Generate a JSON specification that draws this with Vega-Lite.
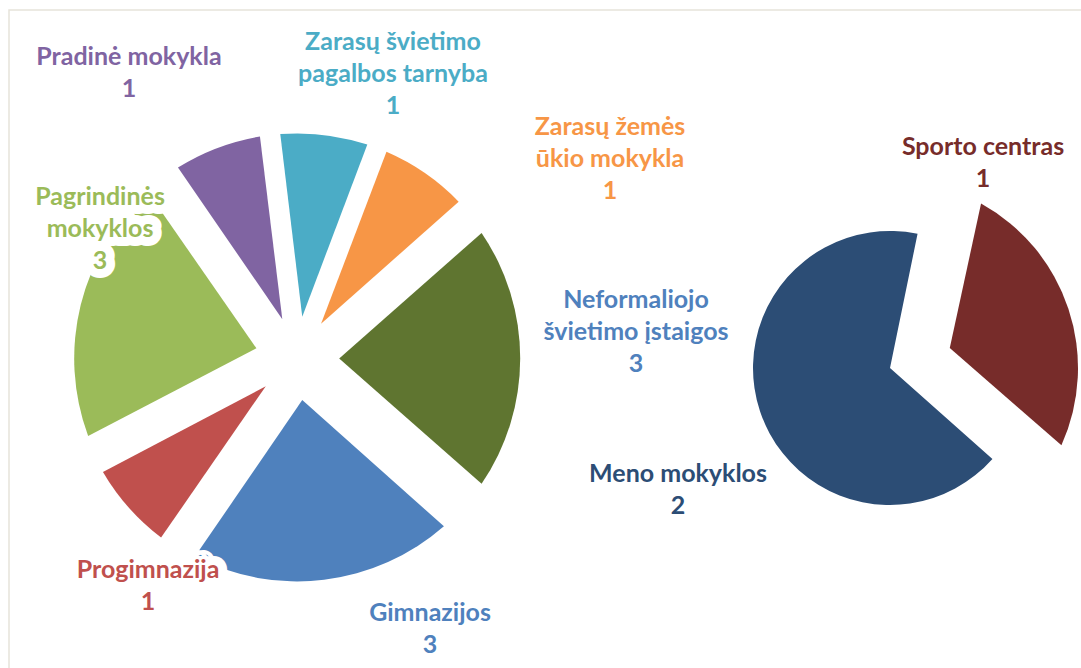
{
  "$schema": "https://vega.github.io/schema/vega-lite/v6.json",
  "width": 1072,
  "height": 658,
  "autosize": {"type": "none"},
  "padding": {"left": 9, "top": 10, "right": 0, "bottom": 0},
  "background": "#ffffff",
  "config": {
    "view": {"stroke": "#e6e3da", "strokeWidth": 1.5, "strokeDash": [1072, 1730, 658, 10]},
    "legend": {"disable": true},
    "text": {"font": "Lato", "fontWeight": "bold", "fontSize": 25, "lineHeight": 32, "align": "center", "baseline": "middle", "lineBreak": "\n"}
  },
  "data": {
    "values": [
      {"category": "Neformaliojo švietimo įstaigos", "value": 3, "pie": "main", "label": "Neformaliojo\nšvietimo įstaigos\n3"},
      {"category": "Gimnazijos", "value": 3, "pie": "main", "label": "Gimnazijos\n3"},
      {"category": "Progimnazija", "value": 1, "pie": "main", "label": "Progimnazija\n1"},
      {"category": "Pagrindinės mokyklos", "value": 3, "pie": "main", "label": "Pagrindinės\nmokyklos\n3"},
      {"category": "Pradinė mokykla", "value": 1, "pie": "main", "label": "Pradinė mokykla\n1"},
      {"category": "Zarasų švietimo pagalbos tarnyba", "value": 1, "pie": "main", "label": "Zarasų švietimo\npagalbos tarnyba\n1"},
      {"category": "Zarasų žemės ūkio mokykla", "value": 1, "pie": "main", "label": "Zarasų žemės\nūkio mokykla\n1"},
      {"category": "Sporto centras", "value": 1, "pie": "second", "label": "Sporto centras\n1"},
      {"category": "Meno mokyklos", "value": 2, "pie": "second", "label": "Meno mokyklos\n2"}
    ]
  },
  "transform": [{"stack": "value", "groupby": ["pie"], "as": ["t0", "t1"]}],
  "encoding": {
    "x": {"field": "pie", "type": "nominal", "scale": {"type": "point", "domain": ["main", "second"], "range": [288.2, 881], "padding": 0}, "axis": null},
    "y": {"field": "pie", "type": "nominal", "scale": {"type": "point", "domain": ["main", "second"], "range": [348.4, 358], "padding": 0}, "axis": null},
    "color": {
      "field": "category", "type": "nominal",
      "scale": {
        "domain": ["Neformaliojo švietimo įstaigos", "Gimnazijos", "Progimnazija", "Pagrindinės mokyklos", "Pradinė mokykla", "Zarasų švietimo pagalbos tarnyba", "Zarasų žemės ūkio mokykla", "Sporto centras", "Meno mokyklos"],
        "range": ["#5F7530", "#4F81BD", "#C0504D", "#9BBB59", "#8064A2", "#4BACC6", "#F79646", "#772C2A", "#2C4D75"]
      }
    }
  },
  "layer": [
    {
      "transform": [{"filter": "datum.pie === 'main' && datum.value === 3"}],
      "mark": {"type": "arc", "innerRadius": 42, "outerRadius": 223, "padAngle": 0.2510},
      "encoding": {
        "theta": {"field": "t0", "type": "quantitative", "scale": {"domain": [0, 13], "range": [0.8458, 7.129]}},
        "theta2": {"field": "t1"}
      }
    },
    {
      "transform": [{"filter": "datum.pie === 'main' && datum.value === 1"}],
      "mark": {"type": "arc", "innerRadius": 42, "outerRadius": 225, "padAngle": 0.0895},
      "encoding": {
        "theta": {"field": "t0", "type": "quantitative", "scale": {"domain": [0, 13], "range": [0.8458, 7.129]}},
        "theta2": {"field": "t1"}
      }
    },
    {
      "transform": [{"filter": "datum.category === 'Meno mokyklos'"}],
      "mark": {"type": "arc", "outerRadius": 137},
      "encoding": {
        "theta": {"field": "t0", "type": "quantitative", "scale": {"domain": [0, 3], "range": [0.2025, 6.4857]}},
        "theta2": {"field": "t1"}
      }
    },
    {
      "transform": [{"filter": "datum.category === 'Sporto centras'"}],
      "mark": {"type": "arc", "innerRadius": 63, "outerRadius": 188, "padAngle": 0.5738},
      "encoding": {
        "theta": {"field": "t0", "type": "quantitative", "scale": {"domain": [0, 3], "range": [0.2025, 6.4857]}},
        "theta2": {"field": "t1"}
      }
    },
    {
      "transform": [{"filter": "datum.category === 'Pagrindinės mokyklos'"}],
      "mark": {"type": "text", "radius": 254.8, "thetaOffset": 1.1692, "color": "#ffffff", "stroke": "#ffffff", "strokeWidth": 18, "strokeJoin": "round"},
      "encoding": {"theta": {"field": "t0", "type": "quantitative", "scale": {"domain": [0, 13], "range": [0.8458, 7.129]}}, "text": {"field": "label"}, "color": null}
    },
    {
      "transform": [{"filter": "datum.category === 'Progimnazija'"}],
      "mark": {"type": "text", "radius": 258.9, "thetaOffset": 0.0099, "color": "#ffffff", "stroke": "#ffffff", "strokeWidth": 18, "strokeJoin": "round"},
      "encoding": {"theta": {"field": "t0", "type": "quantitative", "scale": {"domain": [0, 13], "range": [0.8458, 7.129]}}, "text": {"field": "label"}, "color": null}
    },
    {
      "transform": [{"filter": "datum.category === 'Pradinė mokykla'"}],
      "mark": {"type": "text", "radius": 345.2, "thetaOffset": 0.0951},
      "encoding": {"theta": {"field": "t0", "type": "quantitative", "scale": {"domain": [0, 13], "range": [0.8458, 7.129]}}, "text": {"field": "label"}}
    },
    {
      "transform": [{"filter": "datum.category === 'Zarasų švietimo pagalbos tarnyba'"}],
      "mark": {"type": "text", "radius": 330.6, "thetaOffset": 0.4147},
      "encoding": {"theta": {"field": "t0", "type": "quantitative", "scale": {"domain": [0, 13], "range": [0.8458, 7.129]}}, "text": {"field": "label"}}
    },
    {
      "transform": [{"filter": "datum.category === 'Zarasų žemės ūkio mokykla'"}],
      "mark": {"type": "text", "radius": 389.1, "thetaOffset": 0.5714},
      "encoding": {"theta": {"field": "t0", "type": "quantitative", "scale": {"domain": [0, 13], "range": [0.8458, 7.129]}}, "text": {"field": "label"}}
    },
    {
      "transform": [{"filter": "datum.category === 'Pagrindinės mokyklos'"}],
      "mark": {"type": "text", "radius": 254.8, "thetaOffset": 1.1692},
      "encoding": {"theta": {"field": "t0", "type": "quantitative", "scale": {"domain": [0, 13], "range": [0.8458, 7.129]}}, "text": {"field": "label"}}
    },
    {
      "transform": [{"filter": "datum.category === 'Neformaliojo švietimo įstaigos'"}],
      "mark": {"type": "text", "radius": 343.8, "thetaOffset": 0.5543, "color": "#4F81BD"},
      "encoding": {"theta": {"field": "t0", "type": "quantitative", "scale": {"domain": [0, 13], "range": [0.8458, 7.129]}}, "text": {"field": "label"}, "color": null}
    },
    {
      "transform": [{"filter": "datum.category === 'Gimnazijos'"}],
      "mark": {"type": "text", "radius": 287.2, "thetaOffset": 0.365},
      "encoding": {"theta": {"field": "t0", "type": "quantitative", "scale": {"domain": [0, 13], "range": [0.8458, 7.129]}}, "text": {"field": "label"}}
    },
    {
      "transform": [{"filter": "datum.category === 'Progimnazija'"}],
      "mark": {"type": "text", "radius": 258.9, "thetaOffset": 0.0099},
      "encoding": {"theta": {"field": "t0", "type": "quantitative", "scale": {"domain": [0, 13], "range": [0.8458, 7.129]}}, "text": {"field": "label"}}
    },
    {
      "transform": [{"filter": "datum.category === 'Meno mokyklos'"}],
      "mark": {"type": "text", "radius": 237.0, "thetaOffset": 1.9518},
      "encoding": {"theta": {"field": "t0", "type": "quantitative", "scale": {"domain": [0, 3], "range": [0.2025, 6.4857]}}, "text": {"field": "label"}}
    },
    {
      "transform": [{"filter": "datum.category === 'Sporto centras'"}],
      "mark": {"type": "text", "radius": 239.8, "thetaOffset": 0.1958},
      "encoding": {"theta": {"field": "t0", "type": "quantitative", "scale": {"domain": [0, 3], "range": [0.2025, 6.4857]}}, "text": {"field": "label"}}
    }
  ],
  "resolve": {"scale": {"theta": "independent"}}
}
